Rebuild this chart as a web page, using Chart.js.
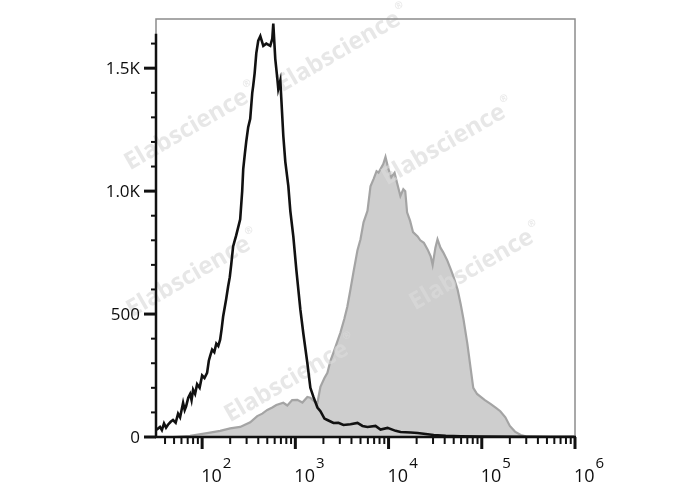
<!DOCTYPE html>
<html>
<head>
<meta charset="utf-8">
<script src="https://cdn.jsdelivr.net/npm/chart.js@4.4.1/dist/chart.umd.min.js"></script>
<style>
  html, body { margin: 0; padding: 0; background: #fff; }
  #histo { display: block; }
</style>
</head>
<body>
<canvas id="histo" width="688" height="490"></canvas>
<script>
// control (black line) histogram, channel value vs count
const controlX = [32.5, 35.3, 37, 39, 41, 43, 46, 48.7, 52, 55.2, 58, 62.5, 65, 67.3, 71, 74.3, 77, 80, 84, 88.3,
  94, 100, 106, 113, 118, 122, 128, 135, 142, 149, 156, 162, 168, 181, 190, 198, 205, 215, 224, 232, 256, 269, 276,
  287, 297, 312, 328, 345, 353, 366, 381, 400, 421, 453, 488,
  538, 566, 580, 609, 640, 656, 690, 706, 743, 780, 841, 883, 951, 1025, 1132, 1219, 1346, 1449, 1563,
  1726, 1858, 2052, 2208, 2563, 2897, 3280, 3900, 4640, 5250, 5940, 7240, 8200, 9750, 11900, 13450,
  17250, 20500, 25000, 30500, 41000, 59400, 97500, 262000, 1000000];
const controlY = [30, 41, 28, 55, 38, 50, 62, 69, 58, 95, 80, 139, 110, 125, 160, 175, 150, 192, 175, 215,
  200, 250, 240, 261, 310, 330, 355, 345, 380, 370, 396, 440, 490, 560, 612, 650, 700, 775, 800, 820, 885, 1000, 1090,
  1150, 1200, 1260, 1294, 1400, 1428, 1480, 1560, 1612, 1630, 1591, 1600,
  1591, 1620, 1681, 1538, 1460, 1416, 1450, 1380, 1224, 1120, 1020, 920, 816, 680, 518, 420, 300, 200, 163,
  120, 105, 75, 69, 57, 58, 49, 52, 57, 45, 41, 45, 30, 37, 25, 20,
  18, 16, 12, 8, 5, 3, 2, 1, 0];

// stained sample (grey filled) histogram
const stainedX = [48.7, 74.3, 113, 156, 200, 256, 328, 390, 442, 500, 566, 625, 743, 820, 924,
  1050, 1190, 1346, 1449, 1592, 1726, 1858, 2052, 2208, 2380, 2563, 2830, 3040, 3350, 3610,
  3900, 4200, 4640, 5000, 5390, 5940, 6400, 6900, 7430, 7800, 8200, 8770, 9270, 9960, 10700,
  11600, 12400, 13400, 14400, 15100, 15800, 17000, 18300, 20500, 21900, 23900, 26200, 28300, 29700, 31800,
  33500, 36000, 38600, 42400, 46500, 49900, 55000, 59400, 63700, 70000, 75500, 81000, 89000, 97500, 108000,
  124000, 142000, 158000, 179000, 200000, 227000, 262000, 296000, 377000, 545000, 1000000];
const stainedY = [0, 5, 16, 25, 35, 41, 60, 85, 95, 110, 120, 130, 139, 128, 150,
  151, 140, 163, 160, 145, 139, 204, 240, 261, 310, 343, 390, 424, 480, 530,
  600, 670, 760, 804, 873, 920, 1020, 1049, 1081, 1075, 1090, 1110, 1139, 1090, 1057,
  1075, 1030, 980, 1008, 1000, 914, 880, 833, 816, 800, 790, 763, 735, 700, 770,
  804, 770, 751, 720, 682, 650, 600, 540, 478, 380, 286, 200, 175, 163, 150,
  135, 118, 105, 80, 45, 22, 8, 3, 2, 1, 3];

// axis ticks
const yMajorTicks = [0, 500, 1000, 1500];
const yMajorLabels = ["0", "500", "1.0K", "1.5K"];
const yMinorTicks = [100, 200, 300, 400, 600, 700, 800, 900, 1100, 1200, 1300, 1400, 1600];
const xDecades = [100, 1000, 10000, 100000, 1000000];
const xExponents = ["2", "3", "4", "5", "6"];
const xMinorTicks = [40, 50, 60, 70, 80, 90];
xDecades.slice(0, 4).forEach(d => { for (let m = 2; m <= 9; m++) xMinorTicks.push(d * m); });

const FONT = '"Open Sans", "Liberation Sans", sans-serif';

// watermark spots (centre, in canvas px)
const marks = [[190, 128], [342, 50], [447, 143], [475, 268], [192, 275], [290, 380]];

function drawWatermarks(chart) {
  const ctx = chart.ctx;
  ctx.save();
  ctx.fillStyle = "rgba(218,218,218,0.65)";
  marks.forEach(([cx, cy]) => {
    ctx.save();
    ctx.translate(cx, cy);
    ctx.rotate(-30 * Math.PI / 180);
    ctx.font = "bold 24px " + FONT;
    ctx.textAlign = "center";
    ctx.textBaseline = "middle";
    ctx.fillText("Elabscience", -4, 0);
    const w = ctx.measureText("Elabscience").width;
    ctx.font = "bold 10px " + FONT;
    ctx.textAlign = "left";
    ctx.fillText("\u00AE", w / 2 - 2, -10);
    ctx.restore();
  });
  ctx.restore();
}

const flowAxes = {
  id: "flowAxes",
  afterDatasetDraw(chart, args) {
    if (args.index === 0) drawWatermarks(chart);
  },
  afterDraw(chart) {
    const ctx = chart.ctx;
    const a = chart.chartArea;
    const xs = chart.scales.x, ys = chart.scales.y;
    ctx.save();
    // grey frame
    ctx.strokeStyle = "#8c8c8c";
    ctx.lineWidth = 1.5;
    ctx.strokeRect(a.left, a.top, a.right - a.left, a.bottom - a.top);
    // black spines
    ctx.strokeStyle = "#111";
    ctx.lineWidth = 2.5;
    ctx.beginPath();
    ctx.moveTo(a.left, ys.getPixelForValue(0) + 1);
    ctx.lineTo(a.left, ys.getPixelForValue(1640));
    ctx.moveTo(a.left - 1, a.bottom);
    ctx.lineTo(a.right + 1, a.bottom);
    ctx.stroke();

    // y ticks
    ctx.lineWidth = 3;
    yMajorTicks.forEach(v => {
      const y = ys.getPixelForValue(v);
      ctx.beginPath(); ctx.moveTo(a.left - 12, y); ctx.lineTo(a.left, y); ctx.stroke();
    });
    ctx.lineWidth = 2;
    yMinorTicks.forEach(v => {
      const y = ys.getPixelForValue(v);
      ctx.beginPath(); ctx.moveTo(a.left - 5, y); ctx.lineTo(a.left, y); ctx.stroke();
    });
    // x ticks
    ctx.lineWidth = 3;
    xDecades.forEach(v => {
      const x = xs.getPixelForValue(v);
      ctx.beginPath(); ctx.moveTo(x, a.bottom); ctx.lineTo(x, a.bottom + 12); ctx.stroke();
    });
    ctx.lineWidth = 2;
    xMinorTicks.forEach(v => {
      const x = xs.getPixelForValue(v);
      ctx.beginPath(); ctx.moveTo(x, a.bottom); ctx.lineTo(x, a.bottom + 7); ctx.stroke();
    });

    // labels
    ctx.fillStyle = "#0d0d0d";
    ctx.font = "17px " + FONT;
    ctx.textAlign = "right";
    ctx.textBaseline = "middle";
    yMajorTicks.forEach((v, i) => {
      ctx.fillText(yMajorLabels[i], a.left - 16, ys.getPixelForValue(v) + 1);
    });
    ctx.textAlign = "left";
    ctx.textBaseline = "alphabetic";
    xDecades.forEach((v, i) => {
      const x = xs.getPixelForValue(v);
      ctx.font = "18px " + FONT;
      ctx.fillText("10", x - 1, a.bottom + 45);
      const w = ctx.measureText("10").width;
      ctx.font = "15px " + FONT;
      ctx.fillText(xExponents[i], x + w, a.bottom + 31);
    });
    ctx.restore();
  }
};

function build() {
  const ctx = document.getElementById("histo").getContext("2d");
  new Chart(ctx, {
    type: "line",
    data: {
      datasets: [
        {
          label: "Stained",
          data: stainedX.map((x, i) => ({ x, y: stainedY[i] })),
          borderColor: "#a4a4a4",
          backgroundColor: "#cecece",
          borderWidth: 2.2,
          fill: "origin",
          pointRadius: 0,
          tension: 0,
          order: 2
        },
        {
          label: "Control",
          data: controlX.map((x, i) => ({ x, y: controlY[i] })),
          borderColor: "#111111",
          borderWidth: 2.6,
          fill: false,
          pointRadius: 0,
          tension: 0,
          order: 1
        }
      ]
    },
    options: {
      responsive: false,
      animation: false,
      layout: { padding: { left: 156, right: 113, top: 19, bottom: 53 } },
      scales: {
        x: { type: "logarithmic", min: 32, max: 1000000, display: false },
        y: { type: "linear", min: 0, max: 1700, display: false }
      },
      plugins: {
        legend: { display: false },
        tooltip: { enabled: false }
      }
    },
    plugins: [flowAxes]
  });
}

if (document.fonts && document.fonts.load) {
  Promise.all([document.fonts.load('17px "Open Sans"'), document.fonts.load('bold 24px "Open Sans"')])
    .then(build, build);
} else {
  build();
}
</script>
</body>
</html>
